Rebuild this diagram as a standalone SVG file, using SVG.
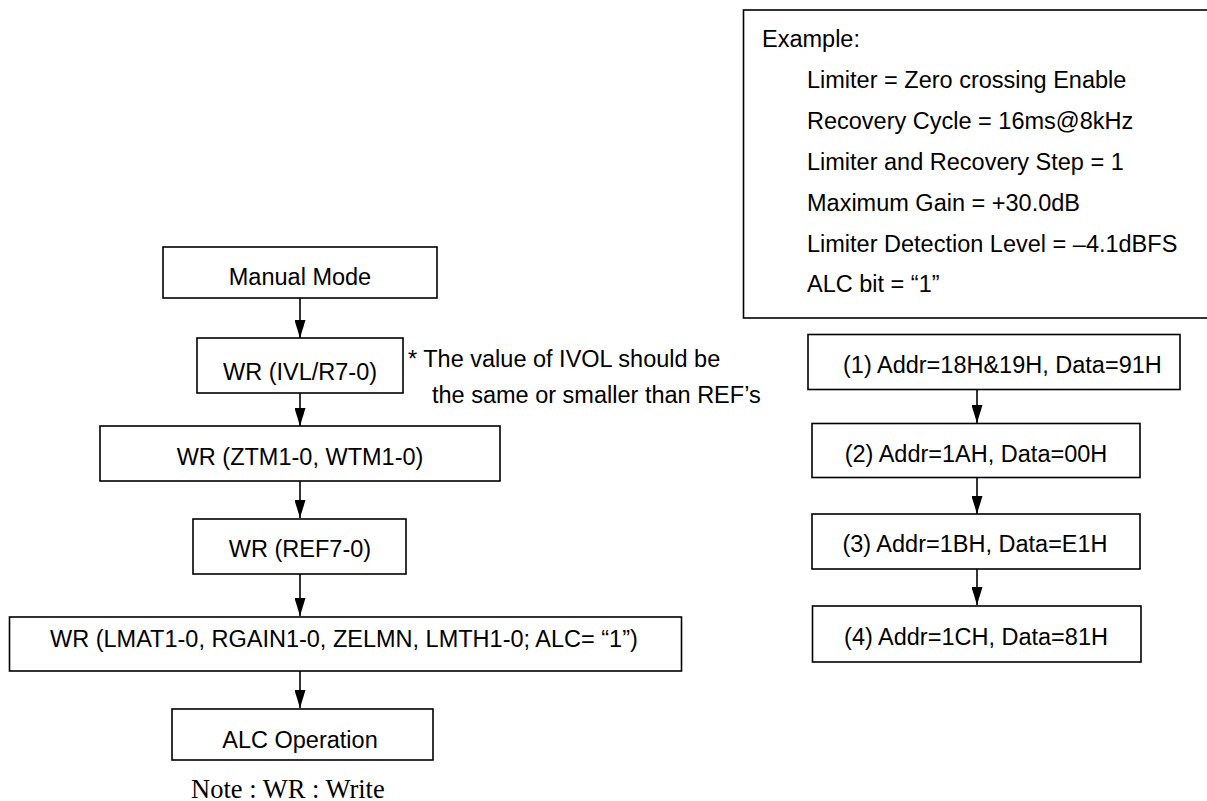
<svg xmlns="http://www.w3.org/2000/svg" width="1207" height="801" viewBox="0 0 1207 801">
<style>
.box{fill:#fff;stroke:#000;stroke-width:1.6}
.t{font-family:"Liberation Sans",Arial,sans-serif;font-size:23.5px;fill:#000}
.c{text-anchor:middle}
.n{font-family:"Liberation Serif","Times New Roman",serif;font-size:26.5px;fill:#000}
.e{fill:none;stroke:#000;stroke-width:1.6}
</style>
<defs>
<marker id="ah" markerWidth="18" markerHeight="11" refX="18" refY="5.5" orient="auto" markerUnits="userSpaceOnUse" viewBox="0 0 18 11">
<path d="M0,0 L18,5.5 L0,11 Z" fill="#000"/>
</marker>
</defs>
<rect width="1207" height="801" fill="#fff"/>
<g id="connectors">
<line class="e" x1="300" y1="298" x2="300" y2="338" marker-end="url(#ah)"/>
<line class="e" x1="300" y1="393" x2="300" y2="426" marker-end="url(#ah)"/>
<line class="e" x1="300" y1="481" x2="300" y2="518" marker-end="url(#ah)"/>
<line class="e" x1="300" y1="574" x2="300" y2="616" marker-end="url(#ah)"/>
<line class="e" x1="300" y1="671" x2="300" y2="708" marker-end="url(#ah)"/>
<line class="e" x1="977" y1="389" x2="977" y2="423" marker-end="url(#ah)"/>
<line class="e" x1="977" y1="478" x2="977" y2="514" marker-end="url(#ah)"/>
<line class="e" x1="977" y1="569" x2="977" y2="605" marker-end="url(#ah)"/>
</g>
<g id="manual">
<rect class="box" x="163" y="247" width="274" height="51"/>
<text class="t c" x="300" y="285">Manual Mode</text>
</g>
<g id="ivl">
<rect class="box" x="197" y="338" width="206" height="55"/>
<text class="t c" x="300" y="380">WR (IVL/R7-0)</text>
</g>
<g id="note-ivol">
<text class="t" x="408" y="367">* The value of IVOL should be</text>
<text class="t" x="432" y="403">the same or smaller than REF’s</text>
</g>
<g id="ztm">
<rect class="box" x="100" y="426" width="400" height="55"/>
<text class="t c" x="300" y="465">WR (ZTM1-0, WTM1-0)</text>
</g>
<g id="ref">
<rect class="box" x="193" y="519" width="213" height="55"/>
<text class="t c" x="300" y="557">WR (REF7-0)</text>
</g>
<g id="lmat">
<rect class="box" x="9.5" y="617" width="672" height="54"/>
<text class="t" x="50" y="647">WR (LMAT1-0, RGAIN1-0, ZELMN, LMTH1-0; ALC= “1”)</text>
</g>
<g id="alc">
<rect class="box" x="172" y="709" width="261" height="51"/>
<text class="t c" x="300" y="748">ALC Operation</text>
</g>
<g id="note">
<text class="n" x="191" y="798">Note : WR : Write</text>
</g>
<g id="example">
<rect class="box" x="743.5" y="10" width="480" height="308"/>
<text class="t" x="762" y="47">Example:</text>
<text class="t" x="807" y="88">Limiter = Zero crossing Enable</text>
<text class="t" x="807" y="129">Recovery Cycle = 16ms@8kHz</text>
<text class="t" x="807" y="170">Limiter and Recovery Step = 1</text>
<text class="t" x="807" y="211">Maximum Gain = +30.0dB</text>
<text class="t" x="807" y="252">Limiter Detection Level = –4.1dBFS</text>
<text class="t" x="807" y="292">ALC bit = “1”</text>
</g>
<g id="step1">
<rect class="box" x="808" y="334.5" width="372" height="55"/>
<text class="t" x="843" y="373">(1) Addr=18H&amp;19H, Data=91H</text>
</g>
<g id="step2">
<rect class="box" x="812" y="423.5" width="328" height="54"/>
<text class="t c" x="976" y="462">(2) Addr=1AH, Data=00H</text>
</g>
<g id="step3">
<rect class="box" x="812" y="514" width="328" height="55"/>
<text class="t c" x="975" y="552">(3) Addr=1BH, Data=E1H</text>
</g>
<g id="step4">
<rect class="box" x="812.5" y="606" width="328.5" height="56"/>
<text class="t c" x="976" y="645">(4) Addr=1CH, Data=81H</text>
</g>
</svg>
